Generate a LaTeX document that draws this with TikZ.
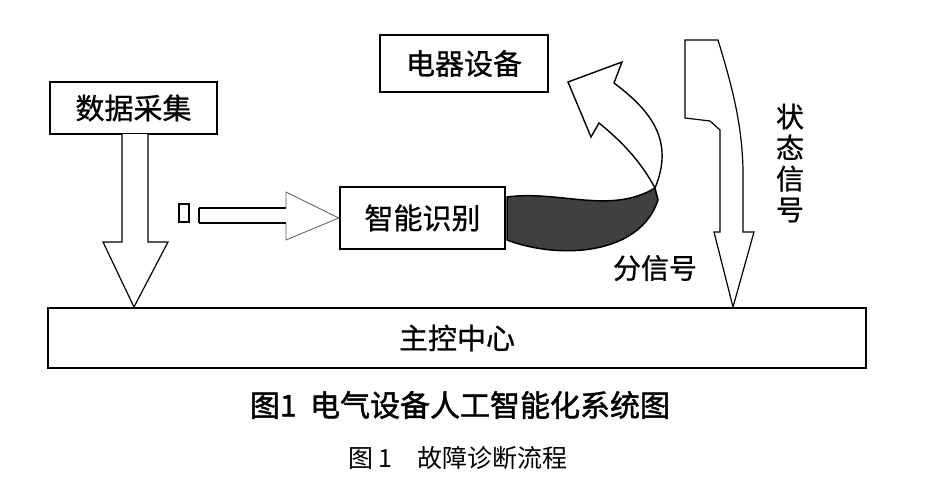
\documentclass[tikz,border=0pt]{standalone}
\usepackage{fontspec}
\newfontfamily\cjk{Noto Sans CJK SC}
\newfontfamily\cjkm[FakeBold=0.8]{Noto Sans CJK SC}
\newfontfamily\cjkb[FakeBold=1.5]{Noto Sans CJK SC}
\tikzset{
 boxn/.style={draw,line width=2.5pt,inner sep=0pt,font=\cjkm\fontsize{29}{30}\selectfont},
 arr/.style={draw,line width=1.2pt,fill=white},
 lbl/.style={font=\cjkm\fontsize{28}{30}\selectfont,inner sep=0pt}
}
\begin{document}
\begin{tikzpicture}[x=1pt,y=-1pt]
\useasboundingbox (0,0) rectangle (931,482);
\node[boxn,minimum width=167pt,minimum height=52pt] (sj) at (133.5,108) {数据采集};
\node[boxn,minimum width=168pt,minimum height=57pt] (dq) at (464,63.5) {电器设备};
\node[boxn,minimum width=165pt,minimum height=62pt] (zn) at (422.5,218) {智能识别};
\node[boxn,minimum width=818pt,minimum height=60pt] (zk) at (457,338) {主控中心};
% left down arrow
\draw[arr] (122,134) -- (122,242) -- (103,242) -- (134,307) -- (168,242) -- (148,242) -- (148,134);
% small square and horizontal arrow
\node[draw,line width=2pt,minimum width=10pt,minimum height=18pt,inner sep=0pt] (sq) at (184,212.5) {};
\draw[line width=2.6pt] (199,208) -- (286,208) (199,223) -- (286,223) (199,208) -- (199,223);
\draw[line width=0.8pt,gray!70!black] (286,208) -- (286,192) -- (zn.west) -- (286,240) -- (286,223);
% right down arrow
\draw[arr] (685,40) -- (685,118) -- (710,121) -- (720,130) -- (720,232) -- (714,232) -- (733,307) -- (754,232) -- (743,232) -- (743,170) .. controls (742,120) and (730,80) .. (718,40) -- cycle;
% black band
\draw[line width=1.5pt,fill=black!75] (507,197) .. controls (560,190) and (610,215) .. (655,188) -- (658,200) .. controls (640,255) and (560,260) .. (507,240) -- cycle;
% curved white arrow
\draw[arr,line width=1.4pt] (655,188) .. controls (640,160) and (620,140) .. (599,123) -- (591,137) -- (568,82) -- (622,62) -- (614,83) .. controls (650,110) and (675,140) .. (655,188) -- cycle;
\node[lbl] (fx) at (655,268) {分信号};
\node[lbl,align=center,font=\cjkm\fontsize{28}{31}\selectfont] (zt) at (790,163) {状\\态\\信\\号};
\node[inner sep=0pt,font=\cjkb\fontsize{30}{32}\selectfont] (c1) at (460,405) {图1\ \ 电气设备人工智能化系统图};
\node[inner sep=0pt,font=\cjk\fontsize{25}{27}\selectfont] (c2) at (458,458) {图 1\quad 故障诊断流程};
\end{tikzpicture}
\end{document}
